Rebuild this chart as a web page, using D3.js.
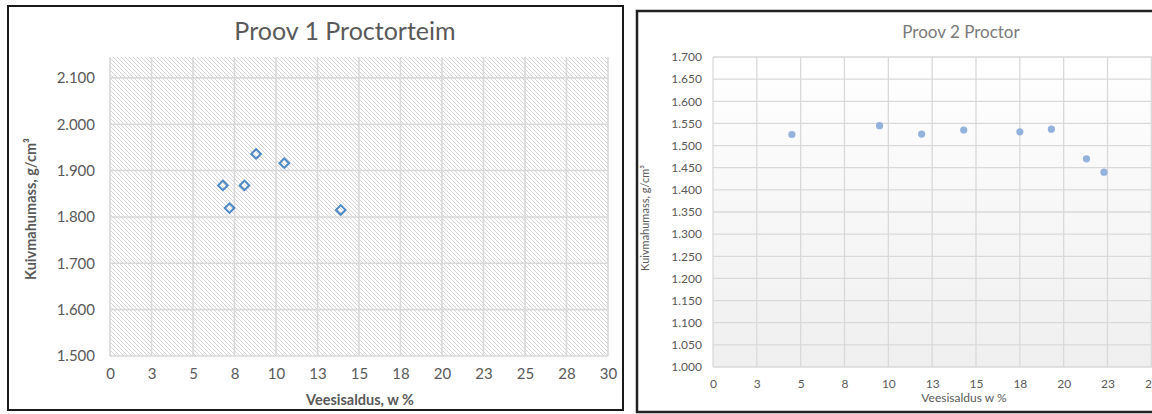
<!DOCTYPE html>
<html><head><meta charset="utf-8">
<script src="https://cdn.jsdelivr.net/npm/d3@7"></script>
<style>
html,body{margin:0;padding:0;background:#fff;overflow:hidden}
text{font-family:Lato,"Open Sans",sans-serif}
</style></head>
<body>
<svg id="c" width="1152" height="414"></svg>
<script>
// ---- Chart 1 data (Proov 1 Proctorteim)
const c1Moisture = [6.8, 7.2, 8.1, 8.8, 10.5, 13.9];
const c1Density  = [1.868, 1.819, 1.868, 1.936, 1.916, 1.815];
const c1XTicks = [0, 2.5, 5, 7.5, 10, 12.5, 15, 17.5, 20, 22.5, 25, 27.5, 30];
const c1XLabels = ["0","3","5","8","10","13","15","18","20","23","25","28","30"];
const c1YTicks = [1.5, 1.6, 1.7, 1.8, 1.9, 2.0, 2.1];
const c1YLabels = ["1.500","1.600","1.700","1.800","1.900","2.000","2.100"];

// ---- Chart 2 data (Proov 2 Proctor)
const c2Moisture = [4.5, 9.5, 11.9, 14.3, 17.5, 19.3, 21.3, 22.3];
const c2Density  = [1.525, 1.545, 1.526, 1.535, 1.531, 1.537, 1.470, 1.440];
const c2XTicks = [0, 2.5, 5, 7.5, 10, 12.5, 15, 17.5, 20, 22.5, 25, 27.5, 30];
const c2XLabels = ["0","3","5","8","10","13","15","18","20","23","25","28","30"];
const c2YTicks = [1.0,1.05,1.1,1.15,1.2,1.25,1.3,1.35,1.4,1.45,1.5,1.55,1.6,1.65,1.7];
const c2YLabels = ["1.000","1.050","1.100","1.150","1.200","1.250","1.300","1.350","1.400","1.450","1.500","1.550","1.600","1.650","1.700"];

const svg = d3.select("#c");
const defs = svg.append("defs");
const pat = defs.append("pattern").attr("id","hatch").attr("patternUnits","userSpaceOnUse")
  .attr("width",4).attr("height",4);
pat.append("rect").attr("width",4).attr("height",4).attr("fill","#ffffff");
pat.append("path").attr("d","M-1,-1 L5,5 M-1,3 L1,5 M3,-1 L5,1").attr("stroke","#d6d6d6").attr("stroke-width",1);
const grad = defs.append("linearGradient").attr("id","bg2").attr("x1",0).attr("y1",0).attr("x2",0).attr("y2",1);
grad.append("stop").attr("offset","0%").attr("stop-color","#ffffff");
grad.append("stop").attr("offset","100%").attr("stop-color","#efefef");

// ================= Chart 1 =================
{
  const g = svg.append("g");
  g.append("rect").attr("x",8).attr("y",6).attr("width",615).attr("height",404)
    .attr("fill","#fff").attr("stroke","#1a1a1a").attr("stroke-width",2);
  const x = d3.scaleLinear().domain([0,30]).range([110,608]);
  const y = d3.scaleLinear().domain([1.5,2.145]).range([356,57]);
  g.append("rect").attr("x",x(0)).attr("y",y(2.145)).attr("width",x(30)-x(0)).attr("height",y(1.5)-y(2.145))
    .attr("fill","url(#hatch)");
  g.append("g").selectAll("line").data(c1XTicks).join("line")
    .attr("x1",d=>x(d)).attr("x2",d=>x(d)).attr("y1",y(2.145)).attr("y2",y(1.5))
    .attr("stroke","#d9d9d9").attr("stroke-width",1.6);
  g.append("g").selectAll("line").data(c1YTicks).join("line")
    .attr("x1",x(0)).attr("x2",x(30)).attr("y1",d=>y(d)).attr("y2",d=>y(d))
    .attr("stroke","#d9d9d9").attr("stroke-width",1.6);
  const xa = d3.axisBottom(x).tickValues(c1XTicks).tickFormat((d,i)=>c1XLabels[i]).tickSize(0).tickPadding(12);
  const xg = g.append("g").attr("transform",`translate(0,${y(1.5)})`).call(xa);
  const ya = d3.axisLeft(y).tickValues(c1YTicks).tickFormat((d,i)=>c1YLabels[i]).tickSize(0).tickPadding(15);
  const yg = g.append("g").attr("transform",`translate(${x(0)},0)`).call(ya);
  [xg,yg].forEach(a=>{a.select(".domain").remove();
    a.selectAll("text").attr("fill","#595959").style("font-size","15px").style("font-family","Lato,'Open Sans',sans-serif");});
  const sym = d3.symbol().type(d3.symbolSquare).size(46);
  g.append("g").selectAll("path").data(c1Moisture).join("path")
    .attr("d",sym).attr("transform",(d,i)=>`translate(${x(d)},${y(c1Density[i])}) rotate(45)`)
    .attr("fill","none").attr("stroke","#4a88c7").attr("stroke-width",2);
  g.append("text").attr("x",345).attr("y",40).attr("text-anchor","middle")
    .attr("fill","#595959").style("font-size","25px").text("Proov 1 Proctorteim");
  g.append("text").attr("x",360).attr("y",405).attr("text-anchor","middle")
    .attr("fill","#595959").style("font-size","14.5px").style("font-weight","bold").text("Veesisaldus, w %");
  g.append("text").attr("transform","translate(36,209) rotate(-90)").attr("text-anchor","middle")
    .attr("fill","#595959").style("font-size","14.5px").style("font-weight","bold").text("Kuivmahumass, g/cm³");
}

// ================= Chart 2 =================
{
  const g = svg.append("g");
  g.append("rect").attr("x",637).attr("y",11).attr("width",700).attr("height",401)
    .attr("fill","#fff").attr("stroke","#222").attr("stroke-width",2.5);
  const x = d3.scaleLinear().domain([0,30]).range([713,1239]);
  const y = d3.scaleLinear().domain([1.0,1.7]).range([367,57]);
  g.append("rect").attr("x",x(0)).attr("y",y(1.7)).attr("width",x(30)-x(0)).attr("height",y(1.0)-y(1.7))
    .attr("fill","url(#bg2)");
  g.append("g").selectAll("line").data(c2XTicks).join("line")
    .attr("x1",d=>x(d)).attr("x2",d=>x(d)).attr("y1",y(1.7)).attr("y2",y(1.0))
    .attr("stroke","#d9d9d9").attr("stroke-width",1.3);
  g.append("g").selectAll("line").data(c2YTicks).join("line")
    .attr("x1",x(0)).attr("x2",x(30)).attr("y1",d=>y(d)).attr("y2",d=>y(d))
    .attr("stroke","#d9d9d9").attr("stroke-width",1.3);
  const xa = d3.axisBottom(x).tickValues(c2XTicks).tickFormat((d,i)=>c2XLabels[i]).tickSize(0).tickPadding(12);
  const xg = g.append("g").attr("transform",`translate(0,${y(1.0)})`).call(xa);
  const ya = d3.axisLeft(y).tickValues(c2YTicks).tickFormat((d,i)=>c2YLabels[i]).tickSize(0).tickPadding(11);
  const yg = g.append("g").attr("transform",`translate(${x(0)},0)`).call(ya);
  [xg,yg].forEach(a=>{a.select(".domain").remove();
    a.selectAll("text").attr("fill","#595959").style("font-size","12px").style("font-family","Lato,'Open Sans',sans-serif");});
  g.append("g").selectAll("circle").data(c2Moisture).join("circle")
    .attr("cx",d=>x(d)).attr("cy",(d,i)=>y(c2Density[i])).attr("r",3.6)
    .attr("fill","#93b3dc");
  g.append("text").attr("x",961).attr("y",38).attr("text-anchor","middle")
    .attr("fill","#7a7a7a").style("font-size","17px").text("Proov 2 Proctor");
  g.append("text").attr("x",964).attr("y",402).attr("text-anchor","middle")
    .attr("fill","#595959").style("font-size","12px").text("Veesisaldus w %");
  g.append("text").attr("transform","translate(649,218) rotate(-90)").attr("text-anchor","middle")
    .attr("fill","#595959").style("font-size","11px").text("Kuivmahumass, g/cm³");
}
</script>
</body></html>
